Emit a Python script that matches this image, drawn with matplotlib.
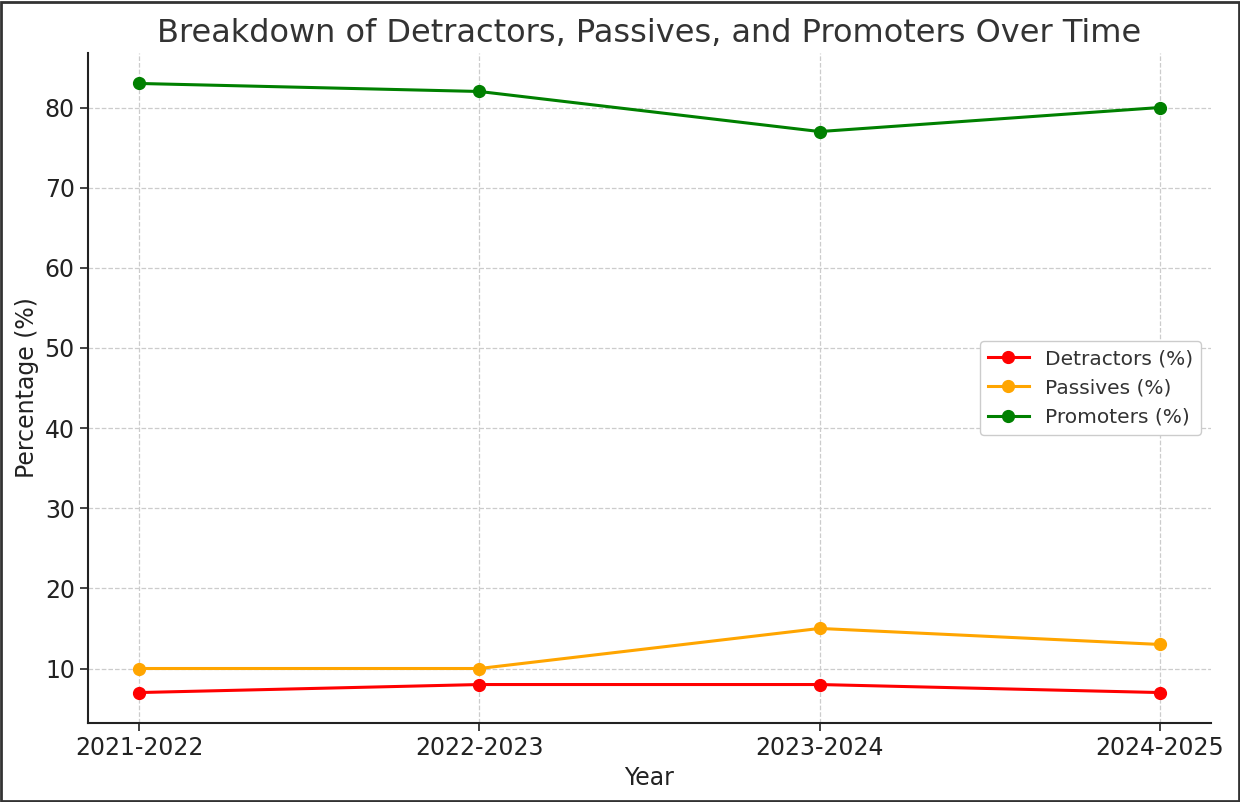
import matplotlib.pyplot as plt

# Data
years = ['2021-2022', '2022-2023', '2023-2024', '2024-2025']
detractors = [7, 8, 8, 7]
passives = [10, 10, 15, 13]
promoters = [83, 82, 77, 80]

fig = plt.figure(figsize=(12.4, 8.02), dpi=100)
ax = fig.add_axes([0.071, 0.0985, 0.9056, 0.8354])

ax.plot(years, detractors, marker='o', color='red', lw=2.2, ms=8.5, label='Detractors (%)')
ax.plot(years, passives, marker='o', color='orange', lw=2.2, ms=8.5, label='Passives (%)')
ax.plot(years, promoters, marker='o', color='green', lw=2.2, ms=8.5, label='Promoters (%)')

ax.set_title('Breakdown of Detractors, Passives, and Promoters Over Time',
             fontsize=23, color='#333333', pad=8)
ax.set_xlabel('Year', fontsize=17, color='#222222')
ax.set_ylabel('Percentage (%)', fontsize=17, color='#222222')
ax.tick_params(labelsize=17, length=6, width=1.2, colors='#222222')
ax.grid(True, linestyle='--', color='#cccccc', linewidth=0.9)

for side in ['top', 'right']:
    ax.spines[side].set_visible(False)
for side in ['left', 'bottom']:
    ax.spines[side].set_linewidth(1.5)
    ax.spines[side].set_color('#222222')

leg = ax.legend(loc='center right', fontsize=14.5, framealpha=1, edgecolor='#cccccc')
for t in leg.get_texts():
    t.set_color('#333333')

# dark frame around the whole picture
fig.patches.append(plt.Rectangle((0.001, 0.001), 0.998, 0.997, transform=fig.transFigure,
                                 fill=False, edgecolor='#333333', linewidth=2))

fig.savefig('out.png', dpi=100)
